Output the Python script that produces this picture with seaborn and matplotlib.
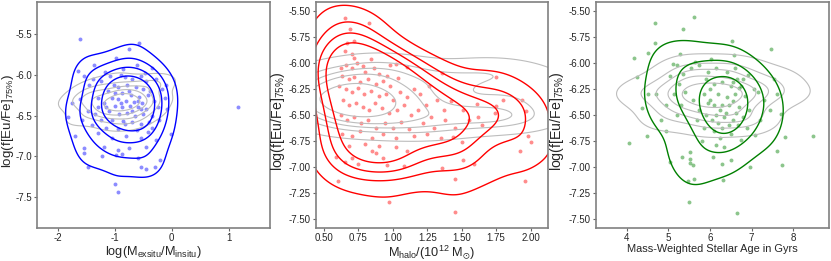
import numpy as np
import pandas as pd
import seaborn as sns
import matplotlib.pyplot as plt
import matplotlib.ticker as mticker

sns.set_style('ticks')
plt.rcParams['font.family'] = ['Liberation Sans', 'DejaVu Sans']
plt.rcParams['mathtext.default'] = 'regular'
plt.rcParams['axes.unicode_minus'] = False

# simulated galaxies: (x, log f[Eu/Fe]_75%) for each panel
exsitu_pts = [(-1.62,-5.56),(-0.57,-5.61),(-0.75,-5.69),(-0.98,-5.79),(-1.37,-5.88),(-1.65,-5.95),
              (-1.55,-6.02),(-0.35,-5.92),(-0.62,-5.88),(-1.18,-5.97),(-1.08,-6.02),(-0.90,-6.00),
              (-0.83,-6.03),(-0.70,-6.05),(-0.55,-6.02),(-0.45,-6.08),(-0.27,-6.05),(-1.25,-6.08),
              (-1.45,-6.12),(-1.02,-6.12),(-0.95,-6.15),(-0.78,-6.12),(-0.63,-6.15),(-0.50,-6.18),
              (-0.38,-6.20),(-0.18,-6.17),(-1.12,-6.20),(-0.88,-6.22),(-0.72,-6.25),(-0.58,-6.27),
              (-0.42,-6.25),(-1.30,-6.28),(-1.05,-6.28),(-0.95,-6.30),(-0.80,-6.32),(-0.67,-6.33),
              (-0.52,-6.35),(-0.32,-6.32),(-1.62,-6.30),(-1.75,-6.35),(-1.20,-6.35),(-1.00,-6.38),
              (-0.88,-6.40),(-0.74,-6.38),(-0.60,-6.40),(-0.45,-6.42),(-0.25,-6.40),(-0.08,-6.42),
              (-1.48,-6.45),(-1.35,-6.48),(-1.10,-6.45),(-0.93,-6.48),(-0.78,-6.47),(-0.65,-6.50),
              (-0.50,-6.48),(-0.35,-6.50),(-1.82,-6.52),(-1.58,-6.55),(-1.25,-6.55),(-1.05,-6.55),
              (-0.85,-6.57),(-0.70,-6.58),(-0.55,-6.60),(-0.40,-6.58),(-0.22,-6.55),(-1.40,-6.62),
              (-1.15,-6.65),(-0.95,-6.66),(-0.62,-6.68),(-0.42,-6.70),(-0.02,-6.73),(-1.70,-6.75),
              (-1.30,-6.72),(-1.05,-6.78),(-0.80,-6.75),(-0.55,-6.78),(-0.28,-6.80),(-1.55,-6.90),
              (-1.20,-6.88),(-0.95,-6.92),(-0.75,-6.90),(-0.45,-6.88),(-1.55,-6.96),(-1.22,-7.00),
              (-0.98,-6.98),(-0.88,-6.97),(-0.60,-7.02),(-0.20,-7.05),(-1.48,-7.13),(-0.55,-7.13),
              (-0.45,-7.15),(-0.30,-7.13),(-1.00,-7.34),(-0.95,-7.44),(1.17,-6.40),(-0.10,-6.12),
              (-0.12,-6.28),(-1.38,-6.05),(-0.48,-5.98),(-0.85,-5.93),(-0.75,-6.20),(-0.60,-6.32),
              (-0.90,-6.35),(-0.70,-6.45),(-1.00,-6.22),(-0.55,-6.42),(-1.15,-6.40),(-0.82,-6.60),
              (-0.35,-6.65),(-1.30,-6.40)]

halo_pts = [(0.65,-5.56),(0.83,-5.61),(0.69,-5.67),(0.67,-5.80),(0.72,-5.79),(0.65,-5.88),(0.70,-5.91),
            (0.84,-5.96),(0.98,-6.02),(1.02,-6.01),(1.10,-6.04),(1.04,-6.14),(1.36,-6.09),(1.26,-6.22),
            (1.32,-6.35),(1.42,-6.36),(1.37,-6.45),(1.51,-6.45),(1.61,-6.39),(1.62,-6.52),(1.74,-6.48),
            (1.75,-6.41),(1.75,-6.13),(1.94,-6.35),(1.97,-6.46),(1.98,-6.70),(2.00,-6.76),(1.92,-6.85),
            (1.96,-7.14),(1.59,-6.97),(1.51,-6.93),(1.45,-7.12),(1.45,-7.43),(1.36,-7.01),(1.50,-6.76),
            (1.44,-6.71),(0.97,-7.34),(0.60,-7.14),(0.59,-6.90),(0.65,-6.95),(0.70,-6.91),(0.75,-6.97),
            (0.85,-6.85),(0.88,-6.87),(0.96,-6.98),(0.93,-6.91),(1.02,-6.81),(1.08,-6.99),
            (0.62,-6.05),(0.66,-6.02),(0.70,-6.05),(0.74,-6.00),(0.78,-6.03),(0.80,-6.08),(0.86,-6.05),
            (0.90,-6.10),(0.63,-6.12),(0.68,-6.15),(0.72,-6.13),(0.76,-6.18),(0.82,-6.15),(0.88,-6.20),
            (0.93,-6.17),(0.98,-6.22),(0.61,-6.22),(0.66,-6.25),(0.70,-6.28),(0.75,-6.24),(0.79,-6.30),
            (0.84,-6.27),(0.90,-6.32),(0.95,-6.30),(1.00,-6.35),(1.05,-6.28),(1.10,-6.33),(1.15,-6.25),
            (1.20,-6.30),(0.64,-6.35),(0.68,-6.40),(0.73,-6.38),(0.78,-6.42),(0.83,-6.45),(0.87,-6.38),
            (0.92,-6.43),(0.97,-6.48),(1.03,-6.45),(1.08,-6.40),(1.13,-6.50),(1.18,-6.45),(1.24,-6.40),
            (1.28,-6.52),(0.62,-6.50),(0.67,-6.55),(0.72,-6.52),(0.77,-6.58),(0.82,-6.55),(0.88,-6.62),
            (0.94,-6.58),(1.00,-6.62),(1.06,-6.57),(1.12,-6.63),(1.22,-6.58),(1.30,-6.62),(1.38,-6.55),
            (1.45,-6.62),(0.63,-6.68),(0.70,-6.70),(0.76,-6.65),(0.85,-6.72),(0.93,-6.68),(1.02,-6.72),
            (1.15,-6.70),(1.25,-6.68),(1.35,-6.72),(0.68,-6.80),(0.80,-6.78),(0.90,-6.80),(1.10,-6.85),
            (1.55,-6.55),(1.65,-6.60),(1.80,-6.35),(0.72,-5.95),(0.96,-6.12)]

age_pts = [(4.69,-5.61),(5.36,-5.67),(5.63,-5.55),(4.69,-5.80),(6.52,-5.79),(7.46,-5.86),(4.18,-5.95),
           (4.51,-5.90),(5.28,-5.91),(4.26,-6.13),(4.06,-6.77),(4.49,-6.70),(4.37,-6.43),(4.51,-6.30),
           (4.71,-6.30),(5.11,-6.01),(5.21,-6.02),(5.64,-5.99),(6.03,-5.96),(6.58,-5.92),(6.92,-6.11),
           (6.70,-6.24),(7.62,-6.30),(7.45,-6.45),(7.70,-6.49),(8.47,-6.70),(7.73,-6.98),(7.62,-6.85),
           (6.96,-7.00),(6.07,-6.90),(5.53,-6.92),(5.33,-6.90),(5.52,-6.86),(5.52,-6.96),(5.60,-6.98),
           (5.49,-7.34),(5.48,-7.14),(5.61,-7.12),(6.30,-6.97),(6.31,-7.13),(6.64,-7.44),(6.15,-6.79),
           (6.35,-6.81),(6.50,-6.93),(6.75,-6.74),(7.08,-6.69),(7.80,-6.71),(4.82,-6.55),(4.95,-6.65),
           (5.05,-6.95),(7.30,-6.35),(7.55,-6.15),(4.95,-6.40),
           (5.35,-6.10),(5.55,-6.05),(5.75,-6.02),(5.95,-6.08),(6.15,-6.05),(6.40,-6.08),(6.60,-6.05),
           (6.80,-6.15),(5.25,-6.20),(6.55,-6.18),(6.75,-6.22),(5.90,-6.15),(6.10,-6.20),(6.30,-6.18),
           (6.50,-6.22),(6.65,-6.15),(7.05,-6.25),(5.15,-6.30),(5.40,-6.28),(6.55,-6.36),(5.85,-6.30),
           (6.00,-6.35),(6.20,-6.30),(6.40,-6.33),(6.60,-6.30),(6.85,-6.32),(7.15,-6.28),(5.30,-6.40),
           (6.62,-6.48),(5.75,-6.45),(5.95,-6.38),(6.10,-6.40),(6.25,-6.45),(6.45,-6.40),(6.70,-6.42),
           (6.95,-6.45),(5.20,-6.50),(6.38,-6.48),(5.70,-6.55),(5.90,-6.50),(6.05,-6.55),(6.20,-6.58),
           (6.35,-6.52),(6.55,-6.55),(6.80,-6.52),(7.20,-6.55),(6.15,-6.50),(6.68,-6.60),(5.85,-6.62),
           (6.10,-6.65),(6.30,-6.62),(6.50,-6.68),(6.90,-6.62),(5.80,-6.75),(6.25,-6.72),(5.05,-6.12),
           (6.00,-6.25),(6.30,-6.40),(5.60,-6.35),(6.45,-6.60)]

# comparison sample (grey contours only)
grey_exsitu_x = [-1.75,-1.6,-1.5,-1.45,-1.4,-1.35,-1.3,-1.25,-1.2,-1.15,-1.1,-1.05,-1.0,-0.98,-0.95,
                 -0.92,-0.9,-0.88,-0.85,-0.82,-0.8,-0.78,-0.75,-0.72,-0.7,-0.68,-0.65,-0.6,-0.55,-0.5,
                 -0.45,-0.4,-0.35,-0.3,-0.25,-0.2,-1.65,-1.3,-1.1,-0.95,-0.85,-0.6,-0.4,-1.5,-1.2]
grey_exsitu_y = [-6.35,-6.28,-6.40,-6.30,-6.45,-6.25,-6.38,-6.32,-6.50,-6.20,-6.35,-6.42,-6.28,-6.36,-6.18,
                 -6.48,-6.33,-6.25,-6.40,-6.30,-6.22,-6.45,-6.35,-6.15,-6.38,-6.28,-6.52,-6.32,-6.10,-6.40,
                 -6.25,-6.18,-6.45,-6.12,-6.30,-6.08,-6.55,-6.12,-6.58,-6.05,-6.60,-6.55,-6.35,-6.20,-6.48]
grey_halo_x = [0.45,0.5,0.52,0.55,0.58,0.6,0.62,0.65,0.68,0.7,0.72,0.75,0.78,0.8,0.82,0.85,0.88,0.9,
               0.95,1.0,1.05,1.1,1.15,1.2,1.25,1.3,1.35,1.4,1.5,1.6,1.7,1.8,1.9,2.0,0.55,0.7,0.9,1.1,
               1.65,1.85,1.95,1.75]
grey_halo_y = [-6.35,-6.28,-6.42,-6.30,-6.50,-6.22,-6.38,-6.45,-6.15,-6.33,-6.55,-6.25,-6.40,-6.10,
               -6.48,-6.30,-6.20,-6.52,-6.35,-6.05,-6.42,-6.28,-6.58,-6.15,-6.45,-6.35,-6.60,-6.20,
               -6.50,-6.10,-6.52,-6.30,-6.48,-6.15,-6.12,-6.60,-6.02,-6.62,-6.50,-6.55,-6.35,-6.05]
grey_age_x = [4.3,4.6,4.8,5.0,5.1,5.2,5.3,5.4,5.5,5.6,5.7,5.8,5.85,5.9,6.0,6.05,6.1,6.2,6.25,6.3,
              6.4,6.5,6.6,6.7,6.8,6.9,7.0,7.1,7.2,7.4,7.6,7.9,4.9,5.5,6.0,6.5,7.0,5.3,6.8,6.2]
grey_age_y = [-6.30,-6.25,-6.40,-6.20,-6.35,-6.48,-6.28,-6.15,-6.38,-6.25,-6.52,-6.30,-6.10,-6.42,
              -6.22,-6.35,-6.55,-6.28,-6.05,-6.38,-6.25,-6.45,-6.18,-6.32,-6.50,-6.08,-6.28,-6.40,
              -6.20,-6.32,-6.15,-6.28,-6.55,-6.02,-6.60,-6.05,-6.55,-6.10,-6.58,-6.30]

xlabels = [r'log(M$_{exsitu}$/M$_{insitu}$)', r'M$_{halo}$/(10$^{12}$ M$_{\odot}$)',
           'Mass-Weighted Stellar Age in Gyrs']
ylabel = r'log(f[Eu/Fe]$_{75\%}$)'

fig = plt.figure(figsize=(8.31, 2.61), dpi=100)
lefts = [0.0445, 0.380, 0.717]
axes = [fig.add_axes([l, 0.126, 0.280, 0.866]) for l in lefts]

panels = [
    (exsitu_pts, grey_exsitu_x, grey_exsitu_y, 'blue', [0.14, 0.32, 0.5, 0.68], (-2.37, 1.72), (-7.88, -5.11)),
    (halo_pts, grey_halo_x, grey_halo_y, 'red', [0.07, 0.18, 0.29, 0.42], (0.44, 2.13), (-7.59, -5.41)),
    (age_pts, grey_age_x, grey_age_y, 'green', [0.25, 0.55, 0.8], (3.26, 8.85), (-7.59, -5.41)),
]
xfs = [9.2, 9.2, 7.9]
yfs = [9.6, 10.2, 10.2]
ylab_x = [-0.092, -0.125, -0.128]

for i, (ax, (pts, gx, gy, col, lev, xl, yl)) in enumerate(zip(axes, panels)):
    df = pd.DataFrame(pts, columns=['x', 'y'])
    sns.kdeplot(x=gx, y=gy, levels=6, color='0.74', linewidths=0.8, ax=ax)
    sns.scatterplot(data=df, x='x', y='y', color=col, s=8, alpha=0.45, linewidth=0, ax=ax)
    sns.kdeplot(data=df, x='x', y='y', levels=lev, color=col, linewidths=1.0, bw_adjust=1.1, ax=ax)
    ax.set_xlim(xl)
    ax.set_ylim(yl)
    ax.set_xlabel(xlabels[i], fontsize=xfs[i], labelpad=0.5)
    ax.set_ylabel(ylabel, fontsize=yfs[i])
    ax.yaxis.set_label_coords(ylab_x[i], 0.473)
    ax.tick_params(labelsize=7, length=2.5, width=0.8, color='0.4', pad=1.2)
    for s in ax.spines.values():
        s.set_color('0.5')
        s.set_linewidth(1.2)

axes[0].set_xticks([-2, -1, 0, 1])
axes[0].set_yticks([-7.5, -7.0, -6.5, -6.0, -5.5])
axes[0].yaxis.set_major_formatter(mticker.FormatStrFormatter('%.1f'))
axes[1].set_xticks(np.arange(0.5, 2.01, 0.25))
axes[1].xaxis.set_major_formatter(mticker.FormatStrFormatter('%.2f'))
axes[2].set_xticks([4, 5, 6, 7, 8])
for ax in axes[1:]:
    ax.set_yticks(np.arange(-7.5, -5.49, 0.25))
    ax.yaxis.set_major_formatter(mticker.FormatStrFormatter('%.2f'))

plt.savefig('out.png', dpi=100)
